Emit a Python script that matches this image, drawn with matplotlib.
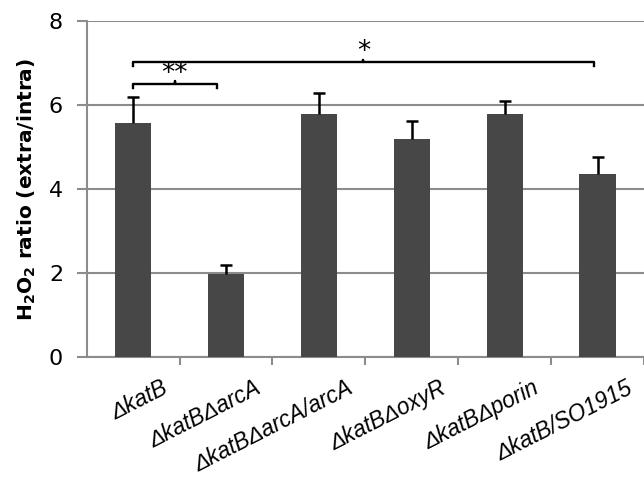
import numpy as np
import matplotlib
matplotlib.use("Agg")
import matplotlib.pyplot as plt

# data
strains = ["\u0394katB", "\u0394katB\u0394arcA", "\u0394katB\u0394arcA/arcA",
           "\u0394katB\u0394oxyR", "\u0394katB\u0394porin", "\u0394katB/SO1915"]
ratio = [5.58, 1.98, 5.78, 5.18, 5.78, 4.37]
err = [0.60, 0.22, 0.51, 0.45, 0.32, 0.40]

# significance brackets: (start, end, height, label)
brackets = [(0, 0.9, 6.50, "**"), (0, 4.96, 7.02, "*")]

grey = "#8c8c8c"

fig = plt.figure(figsize=(6.44, 4.79), dpi=100)
ax = fig.add_axes([0.1346, 0.254, 0.8654, 0.7025])

x = np.arange(len(strains))
ratio = np.array(ratio)
err = np.array(err)
ax.bar(x, ratio, width=0.39, color="#474747", zorder=3)
# Excel-style plus-only error bars
ax.vlines(x, ratio, ratio + err, color="black", lw=1.8, zorder=4)
ax.hlines(ratio + err, x - 0.065, x + 0.065, color="black", lw=1.8, zorder=4)

for x0, x1, h, lab in brackets:
    xm = (x0 + x1) / 2
    ax.plot([x0, x0, xm, xm, xm, x1, x1],
            [h - 0.1, h, h, h + 0.06, h, h, h - 0.1],
            color="black", lw=1.7, zorder=5, solid_joinstyle="round")
    ax.text(xm, h - 0.08, lab, ha="center", va="bottom", fontsize=19,
            family="DejaVu Sans")

ax.set_xlim(-0.5, 5.43)
ax.set_ylim(0, 8)
ax.set_yticks([0, 2, 4, 6, 8])
ax.yaxis.grid(True, color=grey, lw=1.5, zorder=0)
ax.set_axisbelow(True)

# category boundaries carry the tick marks, labels hang from just right of each bar
ax.set_xticks(np.arange(0.5, 6, 1))
ax.set_xticks(x + 0.3, minor=True)
ax.set_xticklabels([])
ax.set_xticklabels(strains, minor=True, rotation=27, ha="right", va="top",
                   rotation_mode="anchor", fontstyle="italic",
                   family="Liberation Sans", fontsize=16.3)
ax.tick_params(axis="x", which="major", length=6, width=1.5, color=grey,
               direction="out")
ax.tick_params(axis="x", which="minor", length=0, pad=14)
ax.tick_params(axis="y", length=7, width=1.5, color=grey, labelsize=16, pad=10)

for s in ["top", "right"]:
    ax.spines[s].set_visible(False)
for s in ["left", "bottom"]:
    ax.spines[s].set_color(grey)
    ax.spines[s].set_linewidth(1.5)

ax.set_ylabel("H$_\\mathbf{2}$O$_\\mathbf{2}$ ratio (extra/intra)",
              fontsize=14.5, fontweight="bold", labelpad=8)

fig.savefig("out.png", dpi=100)
